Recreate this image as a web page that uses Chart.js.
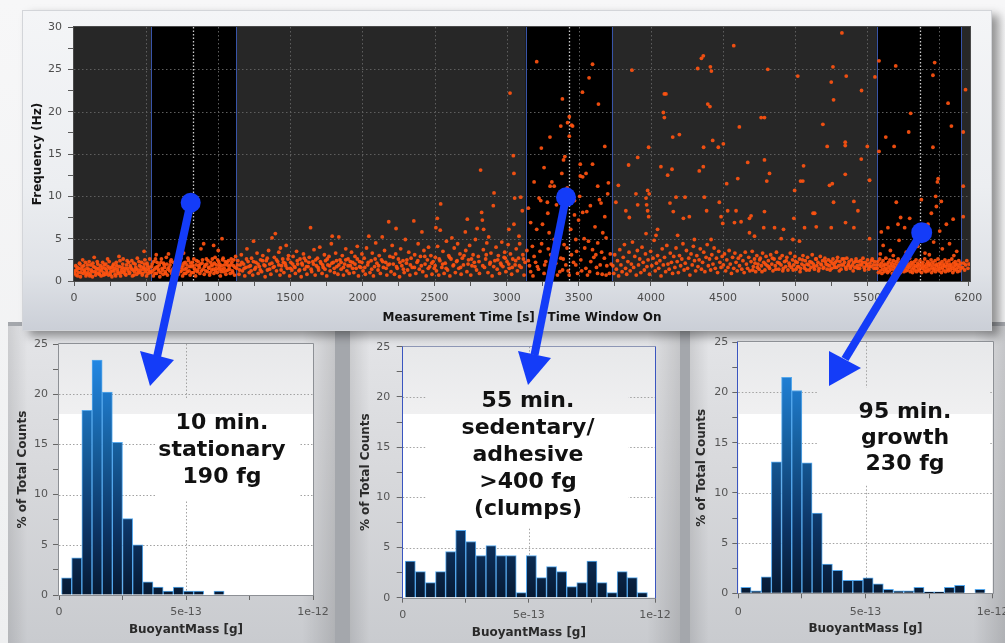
<!DOCTYPE html>
<html>
<head>
<meta charset="utf-8">
<script src="https://cdn.jsdelivr.net/npm/chart.js@4.4.1/dist/chart.umd.min.js"></script>
<style>
  html, body { margin: 0; padding: 0; }
  body {
    width: 1005px; height: 643px; position: relative; overflow: hidden;
    background: linear-gradient(to bottom, #f7f7f8 0%, #eeeff0 100%);
    font-family: "DejaVu Sans", Verdana, sans-serif;
  }
  .abs { position: absolute; }
  #lowerBg { left: 8px; top: 322px; width: 997px; height: 321px; background: #a4a7ac; }
  .panel {
    top: 326px; height: 317px;
    background:
      linear-gradient(to right, rgba(0,0,0,0.10) 0%, rgba(0,0,0,0) 6%, rgba(0,0,0,0) 90%, rgba(0,0,0,0.13) 100%),
      linear-gradient(to bottom, #e4e5e8 0%, #d8d9dc 45%, #c9cbcf 100%);
  }
  #p1 { left: 8px; width: 327px; }
  #p2 { left: 350px; width: 330px; }
  #p3 { left: 690px; width: 315px; }
  #topPanel {
    left: 22px; top: 10px; width: 970px; height: 321px;
    background: linear-gradient(to bottom, #f4f5f7 0%, #eceef1 55%, #dfe2e7 82%, #cbcfd7 100%);
    border: 1px solid #d3d5d9; box-sizing: border-box;
    box-shadow: 7px 5px 9px rgba(0,0,0,0.40);
  }
  canvas.abs { display: block; }
  .note {
    font-family: "DejaVu Sans", Verdana, sans-serif; font-weight: bold; font-size: 22px;
    color: #111; text-align: center; white-space: nowrap; width: 240px;
  }
  #arrows { left: 0; top: 0; width: 1005px; height: 643px; pointer-events: none; }
</style>
</head>
<body>
<div class="abs" id="lowerBg"></div>
<div class="abs panel" id="p1"></div>
<div class="abs panel" id="p2"></div>
<div class="abs panel" id="p3"></div>
<div class="abs" id="topPanel"></div>

<canvas id="runChart" class="abs" width="970" height="322" style="left:22px;top:10px;width:970px;height:322px"></canvas>
<canvas id="hist10" class="abs" width="327" height="316" style="left:8px;top:327px;width:327px;height:316px"></canvas>
<canvas id="hist55" class="abs" width="330" height="316" style="left:350px;top:327px;width:330px;height:316px"></canvas>
<canvas id="hist95" class="abs" width="315" height="316" style="left:690px;top:327px;width:315px;height:316px"></canvas>

<div class="abs note" style="left:102px;top:408px;line-height:27px">10 min.<br>stationary<br>190 fg</div>
<div class="abs note" style="left:408px;top:386px;line-height:27px">55 min.<br>sedentary/<br>adhesive<br>&gt;400 fg<br>(clumps)</div>
<div class="abs note" style="left:785px;top:398px;line-height:26px">95 min.<br>growth<br>230 fg</div>

<svg id="arrows" class="abs" viewBox="0 0 1005 643">
  <g fill="#143cf8" stroke="#143cf8">
    <line x1="190.7" y1="202.7" x2="157" y2="357" stroke-width="8"/>
    <circle cx="190.7" cy="202.7" r="10" stroke="none"/>
    <polygon points="150,386 140,351 174,360" stroke="none"/>

    <line x1="566" y1="197.3" x2="534.5" y2="355" stroke-width="8"/>
    <circle cx="566" cy="197.3" r="10" stroke="none"/>
    <polygon points="528,385 518,351 551,358" stroke="none"/>

    <line x1="921.7" y1="232.7" x2="845" y2="359" stroke-width="8"/>
    <circle cx="921.7" cy="232.7" r="10.5" stroke="none"/>
    <polygon points="829,386 829,351 861,368" stroke="none"/>
  </g>
</svg>

<script>
// ---------- Run trace: frequency of detected cells over measurement time ----------
const xTickLabels = [0, 500, 1000, 1500, 2000, 2500, 3000, 3500, 4000, 4500, 5000, 5500, 6200];
const yTickLabels = [0, 5, 10, 15, 20, 25, 30];

// measurement windows (s) and the time each histogram was sampled at
const timeWindows = [[533, 1123], [3132, 3729], [5567, 6153]];
const windowMarkers = [824, 3433, 5863];

// events: [time s, frequency Hz]
const earlyBand = [
  [8,1.2],[15,0.7],[22,1.6],[30,1.0],[38,2.1],[45,0.5],[52,1.4],[60,2.5],[64,0.9],[68,1.8],[75,1.1],[83,0.6],
  [90,1.5],[98,1.0],[105,2.3],[112,0.8],[120,1.3],[128,0.5],[135,1.7],[140,2.8],[142,1.1],[150,0.7],[158,1.4],
  [165,2.0],[172,0.9],[180,1.2],[188,0.6],[195,1.6],[203,1.0],[210,1.9],[218,0.8],[225,1.3],[233,2.6],[240,0.7],
  [248,1.5],[255,1.1],[263,0.5],[270,1.8],[278,1.2],[285,0.8],[293,2.2],[300,1.4],[308,0.9],[312,2.9],[315,1.7],
  [323,0.6],[330,1.3],[338,2.0],[345,1.0],[353,1.5],[360,0.7],[368,2.4],[375,1.2],[383,0.9],[390,1.8],[398,1.4],
  [405,0.6],[413,2.1],[420,1.1],[428,1.6],[435,0.8],[443,1.3],[450,2.3],[458,1.0],[465,1.7],[473,0.7],[480,1.4],
  [486,3.5],[488,2.0],[495,1.1],[503,0.6],[510,1.8],[518,1.3],[525,2.6],
  [4,0.9],[12,1.8],[19,1.3],[26,0.6],[34,1.5],[41,2.0],[49,1.0],[56,1.7],[71,1.3],[79,2.2],[87,0.8],[94,1.9],
  [101,1.4],[109,0.6],[116,1.9],[124,1.1],[131,2.1],[146,1.6],[154,1.0],[161,2.3],[169,1.5],[176,0.8],[184,1.8],
  [191,1.3],[199,2.2],[206,0.7],[214,1.5],[221,2.0],[229,1.0],[236,1.7],[244,2.3],[251,0.8],[259,1.6],[266,1.2],
  [274,2.0],[281,1.5],[289,0.6],[296,1.8],[304,1.1],[319,2.4],[326,1.0],[334,1.6],[341,2.6],[349,1.2],[356,0.8],
  [364,1.9],[371,1.5],[379,2.2],[386,1.0],[394,1.6],[401,2.4],[409,1.3],[416,0.7],[424,2.0],[431,1.4],[439,2.7],
  [446,1.0],[454,1.8],[461,1.3],[469,2.2],[476,0.9],[484,1.6],[491,2.5],[499,1.4],[506,2.1],[514,0.9],[521,1.6],
  [528,1.1]
];
const window1Events = [
  [535,1.0],[542,2.0],[550,0.6],[557,1.4],[565,2.6],[570,3.1],[572,0.9],[580,1.7],[588,1.2],[595,0.5],[603,2.2],
  [610,1.5],[618,0.8],[625,1.9],[633,1.1],[640,2.8],[648,0.7],[655,3.2],[658,1.6],[663,1.2],[670,2.3],[678,0.9],
  [685,1.4],[693,0.5],[700,2.0],[708,1.3],[715,1.8],[723,0.8],[730,2.5],[738,1.1],[745,1.6],[753,0.6],[760,3.3],
  [762,2.1],[768,1.4],[775,0.9],[783,1.9],[790,2.7],[798,1.2],[805,0.7],[813,1.7],[820,2.2],[828,1.0],[835,1.5],
  [843,0.6],[850,2.4],[858,1.3],[865,1.8],[873,0.9],[880,3.8],[888,2.1],[895,1.4],[899,4.4],[903,0.8],[910,1.9],
  [918,2.6],[925,1.1],[933,1.6],[940,0.7],[948,2.2],[955,1.3],[963,1.9],[968,4.2],[970,0.9],[978,2.8],[985,1.5],
  [993,1.0],[1000,3.6],[1003,2.3],[1008,1.7],[1015,0.6],[1023,1.4],[1026,5.0],[1030,2.5],[1038,1.1],[1045,1.9],
  [1053,0.8],[1060,2.2],[1068,1.3],[1075,1.7],[1083,0.9],[1090,2.6],[1098,1.2],[1105,1.8],[1113,0.7],[1120,2.9],
  [538,1.7],[546,1.2],[553,2.3],[561,0.9],[568,1.6],[576,2.2],[584,1.4],[591,1.9],[599,1.0],[606,2.6],[614,1.3],
  [621,2.1],[629,1.6],[636,0.9],[644,2.0],[651,1.4],[666,1.9],[674,2.5],[681,1.1],[689,2.2],[696,1.6],[704,0.8],
  [711,2.4],[719,1.5],[726,1.2],[734,2.0],[741,2.7],[749,1.3],[756,1.8],[764,0.9],[771,2.2],[779,1.5],[786,1.1],
  [794,2.4],[801,1.7],[809,2.1],[816,1.0],[824,1.8],[831,2.6],[839,1.3],[846,1.9],[854,1.1],[861,2.3],[869,1.6],
  [876,2.0],[884,1.2],[891,2.5],[906,1.7],[914,1.2],[921,2.0],[929,2.4],[936,1.5],[944,1.0],[951,1.8],[959,2.6],
  [966,1.4],[974,2.1],[981,1.2],[989,1.9],[996,2.5],[1004,1.4],[1011,2.0],[1019,1.1],[1026,1.8],[1034,2.7],
  [1041,1.5],[1049,2.3],[1056,1.2],[1064,1.9],[1071,2.4],[1079,1.4],[1086,1.9],[1094,2.2],[1101,1.0],[1109,2.5],
  [1116,1.6]
];
const driftBand = [
  [1128,1.5],[1136,2.4],[1144,0.8],[1152,1.9],[1160,3.1],[1168,1.2],[1176,2.0],[1184,0.6],[1192,1.6],[1199,3.8],
  [1207,2.3],[1215,1.0],[1223,1.8],[1231,2.7],[1239,0.7],[1245,4.7],[1253,1.4],[1261,2.2],[1269,3.3],[1277,0.9],
  [1285,1.7],[1293,2.5],[1301,1.1],[1309,3.0],[1317,1.9],[1325,0.5],[1333,2.4],[1341,1.3],[1349,3.6],[1357,2.0],
  [1365,0.8],[1373,5.1],[1381,1.6],[1389,2.8],[1396,5.6],[1404,1.2],[1412,2.3],[1420,3.4],[1428,0.7],[1431,3.9],
  [1439,1.8],[1447,2.6],[1455,1.0],[1463,2.1],[1471,4.2],[1479,1.5],[1487,3.0],[1495,0.6],[1503,2.2],[1511,1.3],
  [1519,2.9],[1527,1.7],[1535,0.9],[1543,3.5],[1551,2.0],[1559,1.2],[1567,2.6],[1575,0.5],[1583,1.9],[1591,3.2],
  [1599,1.4],[1607,2.4],[1615,0.8],[1623,1.7],[1631,2.8],[1640,6.3],[1648,1.1],[1656,2.3],[1664,3.7],[1672,0.7],
  [1680,1.8],[1688,2.7],[1696,1.3],[1704,4.0],[1712,2.1],[1720,0.9],[1728,1.6],[1736,3.1],[1744,2.4],[1752,0.6],
  [1760,1.9],[1768,2.9],[1776,1.2],[1784,4.4],[1790,5.3],[1798,2.2],[1806,1.0],[1814,3.3],[1822,1.7],[1830,0.8],
  [1836,5.2],[1844,2.5],[1852,1.4],[1860,3.0],[1868,0.7],[1876,2.0],[1884,3.8],[1892,1.2],[1900,2.6],[1908,0.9],
  [1916,1.8],[1924,3.4],[1932,2.2],[1940,1.0],[1948,2.9],[1956,1.5],[1964,4.1],[1972,0.6],[1980,2.3],[1988,1.6],
  [1996,3.2],
  [1132,1.9],[1148,1.3],[1164,2.2],[1180,1.5],[1196,2.6],[1212,1.7],[1228,1.2],[1244,2.3],[1260,1.6],[1276,2.0],
  [1292,1.3],[1308,2.4],[1324,1.8],[1340,2.7],[1356,1.4],[1372,2.1],[1388,1.7],[1404,2.5],[1420,1.9],[1436,1.3],
  [1452,2.2],[1468,1.8],[1484,2.6],[1500,1.5],[1516,2.0],[1532,1.6],[1548,2.4],[1564,1.3],[1580,2.1],[1596,2.7],
  [1612,1.7],[1628,2.2],[1644,1.4],[1660,2.0],[1676,2.5],[1692,1.6],[1708,2.3],[1724,1.9],[1740,1.4],[1756,2.6],
  [1772,1.8],[1788,2.1],[1804,1.5],[1820,2.4],[1836,1.9],[1852,2.2],[1868,1.6],[1884,2.5],[1900,1.8],[1916,2.3],
  [1932,1.5],[1948,2.0],[1964,2.6],[1980,1.7],[1996,2.2]
];
const midBand = [
  [2004,1.2],[2012,2.7],[2020,0.8],[2028,3.9],[2036,1.9],[2044,5.3],[2052,1.0],[2060,2.4],[2068,3.3],[2076,0.6],
  [2084,1.7],[2092,4.5],[2100,2.1],[2108,1.3],[2116,3.0],[2124,0.9],[2132,2.5],[2137,5.2],[2145,1.6],[2153,3.6],
  [2161,2.2],[2169,0.7],[2177,1.9],[2182,7.0],[2190,2.9],[2198,1.1],[2206,4.2],[2214,2.0],[2222,0.8],[2230,3.2],
  [2233,6.2],[2241,1.5],[2249,2.6],[2257,0.5],[2265,3.8],[2273,1.8],[2281,2.4],[2289,1.0],[2297,4.9],[2305,2.1],
  [2313,1.3],[2321,3.4],[2329,0.7],[2337,2.7],[2345,1.6],[2356,7.1],[2362,3.1],[2370,0.9],[2378,2.2],[2386,4.4],
  [2394,1.4],[2402,2.9],[2412,5.8],[2418,1.1],[2426,3.6],[2434,2.0],[2442,0.6],[2450,2.5],[2458,4.0],[2466,1.7],
  [2474,3.0],[2482,0.8],[2490,2.3],[2498,1.5],
  [2505,2.8],[2509,6.3],[2513,1.2],[2519,7.4],[2521,4.1],[2529,0.7],[2537,2.4],[2539,6.0],[2542,9.1],[2550,1.6],
  [2558,3.5],[2566,0.9],[2574,2.1],[2582,4.7],[2590,1.3],[2598,3.0],[2606,0.6],[2614,2.6],[2620,5.1],[2628,1.8],
  [2636,3.9],[2644,1.0],[2652,2.3],[2660,4.4],[2668,1.5],[2676,3.2],[2684,0.8],[2692,2.7],[2700,1.9],[2713,5.8],
  [2716,3.6],[2724,1.1],[2727,7.3],[2735,2.5],[2743,4.2],[2751,0.7],[2759,1.8],[2767,3.1],[2775,2.2],[2783,4.9],
  [2791,1.3],[2795,6.2],[2803,2.9],[2811,0.9],[2819,13.1],[2826,8.1],[2831,7.2],[2838,3.7],[2840,6.1],[2846,1.6],
  [2854,2.6],[2862,4.5],[2870,1.0],[2875,5.2],[2883,2.0],[2891,3.3],[2899,0.6],[2907,8.9],[2912,10.4],[2918,2.4],
  [2926,4.0],[2934,1.4],[2942,3.0],[2950,0.9],[2958,2.1],[2966,4.6],[2974,1.7],[2982,2.8],[2986,3.4],[2994,1.1],
  [3002,2.3],[3010,4.3],[3015,6.1],[3018,1.5],[3023,22.2],[3026,3.2],[3034,0.8],[3042,2.6],[3046,14.8],[3050,12.7],
  [3050,6.7],[3055,9.8],[3058,1.9],[3066,3.8],[3074,1.2],[3082,2.7],[3085,5.3],[3090,4.4],[3097,9.9],[3100,1.6],
  [3108,8.3],[3112,3.1],[3120,0.7],[3127,2.2],
  [2016,1.6],[2040,2.2],[2064,1.4],[2088,2.6],[2112,1.8],[2140,2.3],[2164,1.5],[2188,2.0],[2212,2.8],[2236,1.7],
  [2260,2.2],[2284,1.4],[2308,2.5],[2332,1.9],[2360,1.6],[2384,2.4],[2408,1.8],[2432,2.9],[2456,1.5],[2480,2.1],
  [2504,1.8],[2532,2.6],[2556,2.0],[2580,1.5],[2604,2.8],[2632,1.9],[2656,2.4],[2680,1.6],[2704,3.0],[2732,2.0],
  [2756,2.6],[2780,1.7],[2808,2.3],[2834,1.8],[2858,3.1],[2886,2.2],[2910,1.7],[2938,2.5],[2962,1.9],[2990,2.7],
  [3014,2.0],[3038,1.6],[3062,2.4],[3088,1.8],[3116,2.6]
];
const window2Events = [
  [3208,25.9],[3595,25.6],[3571,24.0],[3525,22.3],[3636,20.9],[3386,21.5],[3375,18.3],[3450,18.4],[3422,18.7],
  [3434,19.4],[3434,17.1],[3457,18.3],[3394,14.3],[3403,14.7],[3510,13.8],[3595,13.8],[3259,13.4],[3190,11.7],
  [3301,11.2],[3313,11.7],[3329,11.2],[3382,12.7],[3510,12.4],[3527,12.3],[3550,12.7],[3506,10.0],[3555,8.2],
  [3527,8.1],[3631,11.2],[3643,9.6],[3654,9.2],[3700,10.3],[3705,11.6],[3224,9.8],[3236,9.5],[3282,9.3],
  [3166,6.9],[3208,6.1],[3248,6.7],[3294,5.7],[3329,4.9],[3363,5.7],[3398,4.3],[3444,6.1],[3479,4.9],[3498,7.2],
  [3537,5.0],[3567,4.7],[3595,3.7],[3631,4.5],[3666,5.7],[3689,5.1],[3178,4.1],[3150,2.4],[3190,2.9],[3231,3.5],
  [3271,2.3],[3305,3.1],[3340,2.1],[3375,2.7],[3410,1.9],[3449,3.1],[3479,1.9],[3514,2.5],[3549,1.5],[3583,2.3],
  [3618,3.1],[3648,1.9],[3677,2.7],[3712,0.9],[3166,1.1],[3213,1.7],[3259,0.9],[3352,0.7],[3387,1.3],[3433,0.7],
  [3491,0.9],[3560,0.7],[3630,0.9],[3689,0.7],[3140,3.6],[3158,1.8],[3182,0.6],[3200,2.2],[3220,1.4],[3242,4.4],
  [3263,1.9],[3288,3.8],[3318,1.5],[3347,3.6],[3368,1.1],[3392,2.6],[3418,3.9],[3426,1.2],[3463,2.2],[3470,7.8],
  [3485,3.5],[3520,1.2],[3541,3.9],[3575,1.1],[3604,2.8],[3612,6.4],[3622,1.6],[3658,3.4],[3662,0.8],[3694,1.8],
  [3718,3.2],[3724,2.0],[3150,8.6],[3285,8.0],[3345,9.0],[3470,9.5],[3580,8.9],[3680,7.6],[3420,11.0],[3240,15.7],
  [3680,15.9],[3300,17.0]
];
const lateScatter = [
  [3736,1.8],[3742,0.9],[3749,3.1],[3757,9.3],[3760,1.4],[3768,2.4],[3774,11.3],[3776,0.6],[3784,3.7],[3792,1.9],
  [3800,1.1],[3808,2.8],[3816,4.3],[3824,1.5],[3826,8.3],[3832,0.8],[3840,2.3],[3845,13.7],[3848,3.4],[3850,7.5],
  [3856,1.2],[3864,2.0],[3868,24.9],[3872,4.6],[3880,1.6],[3888,2.9],[3896,10.3],[3898,0.7],[3906,3.6],[3908,9.0],
  [3908,14.6],[3914,1.9],[3922,2.6],[3930,1.0],[3938,4.0],[3946,2.2],[3954,1.3],[3962,3.2],[3966,9.8],[3966,5.6],
  [3970,9.0],[3972,1.7],[3977,10.7],[3977,8.3],[3980,2.5],[3984,7.6],[3984,15.8],[3988,10.3],[3990,0.8],[3998,3.5],
  [4006,1.8],[4014,2.7],[4022,4.8],[4030,1.2],[4035,5.4],[4038,2.1],[4046,6.1],[4046,3.0],[4054,1.5],[4062,2.4],
  [4069,13.5],[4070,0.6],[4078,3.8],[4086,19.9],[4086,1.9],[4093,22.1],[4093,19.3],[4094,2.8],[4102,1.1],[4104,22.1],
  [4110,4.2],[4116,12.5],[4118,2.0],[4126,1.4],[4132,9.2],[4134,3.3],[4142,2.2],[4146,13.2],[4150,0.9],[4151,17.0],
  [4155,8.2],[4158,2.9],[4166,1.6],[4174,9.9],[4174,3.9],[4182,2.3],[4185,5.4],[4190,1.0],[4197,17.3],[4198,3.0],
  [4206,1.8],[4214,2.6],[4222,4.4],[4225,7.4],[4230,1.3],[4236,9.9],[4238,2.1],[4246,3.6],[4254,1.5],[4262,2.7],
  [4266,7.6],[4270,0.7],[4278,3.2],[4286,1.9],[4294,4.1],[4301,4.9],[4302,2.4],[4310,1.2],[4318,3.0],[4324,25.1],
  [4326,1.7],[4334,2.5],[4335,13.0],[4342,3.8],[4350,26.3],[4350,1.4],[4358,2.2],[4363,26.6],[4363,13.5],[4365,15.8],
  [4366,3.4],[4370,9.9],[4374,1.1],[4382,2.8],[4386,8.3],[4390,4.3],[4394,20.9],[4398,1.8],[4406,2.6],[4409,20.6],
  [4412,25.3],[4414,1.3],[4417,4.9],[4419,24.8],[4422,3.1],[4428,16.6],[4430,2.0],[4438,3.9],[4446,1.5],[4454,2.7],
  [4462,1.0],[4467,15.8],[4470,3.5],[4474,9.3],[4478,2.2],[4486,7.6],[4486,1.6],[4494,2.9],[4498,6.8]
];
const lateBand = [
  [4502,16.2],[4502,1.9],[4510,3.2],[4518,1.2],[4525,11.5],[4526,2.5],[4532,8.3],[4534,1.6],[4542,3.6],[4550,2.0],
  [4558,0.9],[4566,2.8],[4574,27.8],[4574,1.5],[4579,6.9],[4582,3.3],[4590,8.3],[4590,2.2],[4598,1.2],[4602,12.1],
  [4606,2.7],[4613,18.2],[4614,1.8],[4622,3.0],[4625,7.0],[4630,1.4],[4638,2.4],[4646,1.0],[4654,3.4],[4662,2.0],
  [4670,1.5],[4671,14.0],[4678,2.8],[4683,7.4],[4683,5.7],[4686,1.2],[4694,7.7],[4694,2.3],[4702,3.5],[4710,1.7],
  [4718,5.3],[4718,2.6],[4726,1.1],[4734,3.0],[4742,2.0],[4750,1.4],[4758,2.7],[4764,19.3],[4766,1.8],[4774,3.3],
  [4782,6.3],[4782,2.2],[4787,19.3],[4787,14.3],[4787,8.2],[4790,1.3],[4798,2.9],[4803,11.8],[4806,1.8],[4810,25.0],
  [4814,2.4],[4822,12.7],[4822,1.5],[4830,3.1],[4838,2.0],[4846,1.2],[4854,2.6],[4857,6.3],[4862,1.8],[4870,3.4],
  [4878,2.2],[4886,1.4],[4894,2.7],[4902,1.9],[4903,5.0],[4910,3.0],[4918,1.5],[4919,6.1],[4926,2.3],[4934,1.7],
  [4942,2.8],[4950,1.3],[4958,2.1],[4966,3.3],[4974,1.6],[4982,2.5],[4984,4.9],[4990,1.9],[4991,7.4],[4996,10.7],
  [4998,2.9],[5006,1.4],[5014,2.2],[5018,24.2],[5022,1.7],[5030,4.7],[5030,2.6],[5037,11.8],[5038,1.5],[5046,2.0],
  [5053,11.8],[5054,3.0],[5058,13.6],[5062,1.8],[5065,6.3],[5070,2.4],[5078,1.3],[5086,2.8],[5094,1.9],[5102,2.3],
  [5110,1.6],[5118,3.1],[5124,8.0],[5126,2.0],[5134,1.4],[5135,8.0],[5142,2.6],[5146,6.4],[5150,1.8],[5158,2.2],
  [5166,1.5],[5174,2.9],[5182,1.9],[5190,2.4],[5192,18.5],[5198,1.6],[5206,2.7],[5214,2.0],[5222,15.9],[5222,1.4],
  [5230,2.5],[5238,11.3],[5238,1.8],[5246,2.3],[5250,23.5],[5250,6.3],[5254,1.5],[5257,11.5],[5262,25.3],[5262,2.6],
  [5266,21.4],[5266,9.3],[5270,1.9],[5278,2.2],[5286,1.6],[5294,2.8],[5302,1.8],[5310,2.3],[5318,1.4],[5324,29.3],
  [5326,2.6],[5334,1.9],[5342,2.2],[5347,16.4],[5347,16.0],[5347,12.6],[5349,6.9],[5350,1.6],[5354,24.2],[5358,2.7],
  [5366,1.8],[5374,2.3],[5382,1.5],[5390,2.5],[5398,1.9],[5406,2.2],[5407,9.4],[5407,6.3],[5414,1.6],[5422,2.6],
  [5430,1.8],[5435,8.3],[5438,2.3],[5446,1.5],[5454,2.4],[5458,14.4],[5460,22.5],[5462,1.9],[5470,2.7],[5478,1.6],
  [5486,2.2],[5494,1.8],[5500,15.9],[5502,2.5],[5510,1.4],[5516,11.9],[5516,5.0],[5518,2.1],[5526,1.7],[5534,2.6],
  [5542,1.9],[5550,2.3],[5553,24.1],[5558,1.5],
  [4706,1.3],[4722,2.1],[4738,1.6],[4754,2.5],[4770,1.1],[4794,2.0],[4818,1.7],[4842,2.7],[4866,1.4],[4890,2.1],
  [4914,1.2],[4938,2.4],[4962,1.8],[4986,1.3],[5002,2.3],[5018,1.7],[5034,1.1],[5050,2.5],[5066,1.5],[5082,2.0],
  [5098,1.3],[5114,2.2],[5130,1.7],[5146,2.6],[5162,1.2],[5178,2.0],[5194,1.5],[5210,2.3],[5226,1.9],[5242,1.3],
  [5258,2.1],[5274,1.6],[5290,2.4],[5306,1.2],[5322,1.9],[5338,2.6],[5354,1.4],[5370,2.0],[5386,1.7],[5402,1.2],
  [5418,2.3],[5434,1.5],[5450,1.9],[5466,2.2],[5482,1.3],[5498,2.0],[5514,1.7],[5530,2.4],[5546,1.5],[5562,1.9]
];
const window3Events = [
  [5569,1.5],[5573,2.3],[5577,1.0],[5582,1.9],[5586,2.6],[5589,1.2],[5594,1.7],[5598,2.1],[5601,0.9],[5606,1.4],
  [5609,2.4],[5614,1.8],[5617,1.1],[5622,2.0],[5626,1.5],[5629,2.7],[5634,1.3],[5638,1.9],[5641,1.0],[5646,2.2],
  [5649,1.6],[5654,1.2],[5657,2.5],[5662,1.8],[5666,1.4],[5669,2.1],[5674,0.9],[5678,1.7],[5681,2.4],[5686,1.3],
  [5689,2.0],[5694,1.6],[5698,1.1],[5702,2.3],[5706,1.5],[5709,1.9],[5714,2.6],[5718,1.2],[5721,1.7],[5726,2.2],
  [5730,1.0],[5733,1.6],[5738,2.0],[5742,1.4],[5745,2.5],[5750,1.8],[5754,1.1],[5757,2.1],[5762,1.5],[5766,1.9],
  [5769,1.2],[5774,2.4],[5778,1.7],[5781,1.3],[5786,2.0],[5790,1.6],[5793,2.7],[5798,1.1],[5802,1.8],[5805,2.2],
  [5810,1.4],[5814,1.0],[5817,2.0],[5822,1.6],[5826,2.3],[5829,1.3],[5834,1.8],[5838,2.5],[5841,1.1],[5846,1.7],
  [5850,2.1],[5853,1.4],[5858,1.9],[5862,1.2],[5865,2.4],[5870,1.6],[5874,2.0],[5877,1.0],[5882,1.5],[5886,2.2],
  [5889,1.8],[5894,1.3],[5898,2.6],[5901,1.7],[5906,1.1],[5910,2.0],[5913,1.5],[5918,2.3],[5922,1.2],[5925,1.8],
  [5930,2.1],[5934,1.4],[5937,1.9],[5942,2.5],[5946,1.0],[5949,1.6],[5954,2.2],[5958,1.3],[5961,1.9],[5966,1.5],
  [5970,2.4],[5973,1.1],[5978,1.8],[5982,2.0],[5985,1.4],[5990,2.6],[5994,1.7],[5997,1.2],[6002,2.1],[6006,1.5],
  [6009,1.9],[6014,1.0],[6018,2.3],[6021,1.6],[6026,1.3],[6030,2.0],[6033,1.8],[6038,2.5],[6042,1.1],[6045,1.7],
  [6050,2.2],[6054,1.4],[6057,1.9],[6062,1.2],[6066,2.4],[6069,1.6],[6074,2.0],[6078,1.3],[6081,1.8],[6086,2.6],
  [6090,1.5],[6093,1.0],[6098,2.1],[6102,1.7],[6105,1.3],[6110,2.3],[6114,1.9],[6117,1.4],[6122,2.0],[6126,1.1],
  [6129,1.6],[6134,2.4],[6138,1.8],[6141,1.2],[6146,2.1],[6150,1.5],
  [5581,26.0],[5697,25.4],[5967,25.8],[5955,24.3],[6060,21.0],[5801,19.8],[5787,17.6],[5628,17.0],[5686,15.9],
  [5955,15.8],[6083,18.3],[5581,15.3],[5991,12.1],[5986,11.7],[5974,10.0],[6013,9.4],[5979,8.8],[5944,8.0],
  [5701,9.3],[5875,9.6],[5731,7.5],[5713,6.7],[5759,6.3],[5840,6.3],[5921,6.7],[6048,6.7],[6095,7.3],[5643,6.3],
  [5597,5.8],[5794,7.4],[6002,5.9],[5610,4.2],[5660,3.6],[5720,4.8],[5770,3.4],[5850,4.1],[5900,3.3],[5960,4.6],
  [6020,3.8],[6070,4.4],[6120,3.5],[5590,3.2],[5680,3.0],[5820,3.9],[5930,3.1],[6100,3.0]
];
const tailEvents = [
  [6165,17.6],[6181,22.6],[6165,11.2],[6165,7.6],[6160,1.6],[6168,2.1],[6175,1.3],[6182,1.9],[6190,2.4],[6198,1.5],[6205,2.0]
];

// ---------- Buoyant-mass histograms (% of total counts per bin) ----------
const massTickValues = [0, 5e-13, 1e-12];
const massTickLabels = ['0', '5e-13', '1e-12'];
const firstBinCentre = 3e-14;
const binWidth = 4e-14;
const hist10min = [1.7, 3.7, 18.4, 23.4, 20.2, 15.2, 7.6, 5.0, 1.3, 0.8, 0.4, 0.8, 0.4, 0.4, 0, 0.4, 0, 0, 0, 0, 0, 0, 0, 0];
const hist55min = [3.65, 2.6, 1.5, 2.6, 4.6, 6.7, 5.6, 4.2, 5.2, 4.2, 4.2, 0.5, 4.2, 2.0, 3.1, 2.6, 1.1, 1.5, 3.65, 1.5, 0.5, 2.6, 2.0, 0.5];
const hist95min = [0.6, 0.25, 1.65, 13.1, 21.5, 20.2, 13.0, 8.0, 2.9, 2.3, 1.3, 1.3, 1.55, 0.95, 0.4, 0.25, 0.25, 0.6, 0.15, 0.15, 0.6, 0.8, 0, 0.4];
const percentTickLabels = [0, 5, 10, 15, 20, 25];

Chart.defaults.font.family = '"DejaVu Sans", Verdana, sans-serif';
Chart.defaults.font.size = 11;

function pinScale(size) {
  return (s) => {
    if (s.isHorizontal()) s.height = size; else s.width = size;
    s.paddingLeft = 0; s.paddingRight = 0; s.paddingTop = 0; s.paddingBottom = 0;
  };
}
function withMinors(majors) {
  const out = [];
  majors.forEach((v, i) => {
    out.push(v);
    const next = majors[i + 1];
    if (next !== undefined && next - v === majors[1] - majors[0]) out.push((v + next) / 2);
  });
  return out;
}

// ---------- run trace ----------
const runPlot = {
  id: 'runPlot',
  beforeDatasetsDraw(chart) {
    const { ctx, chartArea: a, scales: { x, y } } = chart;
    ctx.save();
    ctx.beginPath(); ctx.rect(a.left, a.top, a.width, a.height); ctx.clip();
    ctx.fillStyle = '#272727';
    ctx.fillRect(a.left, a.top, a.width, a.height);
    ctx.fillStyle = '#000';
    timeWindows.forEach(([s, e]) => {
      const x0 = x.getPixelForValue(s), x1 = x.getPixelForValue(e);
      ctx.fillRect(x0, a.top, x1 - x0, a.height);
    });
    ctx.strokeStyle = '#5e5e5e'; ctx.lineWidth = 1; ctx.setLineDash([1.5, 2.5]);
    for (let v = 500; v < 6200; v += 500) {
      const px = Math.round(x.getPixelForValue(v)) + 0.5;
      ctx.beginPath(); ctx.moveTo(px, a.top); ctx.lineTo(px, a.bottom); ctx.stroke();
    }
    yTickLabels.slice(1, -1).forEach(v => {
      const py = Math.round(y.getPixelForValue(v)) + 0.5;
      ctx.beginPath(); ctx.moveTo(a.left, py); ctx.lineTo(a.right, py); ctx.stroke();
    });
    ctx.setLineDash([]); ctx.strokeStyle = '#3854a8';
    timeWindows.forEach(([s, e]) => {
      [s, e].forEach(t => {
        const px = Math.round(x.getPixelForValue(t)) + 0.5;
        ctx.beginPath(); ctx.moveTo(px, a.top); ctx.lineTo(px, a.bottom); ctx.stroke();
      });
    });
    ctx.strokeStyle = 'rgba(225,225,225,0.9)'; ctx.lineWidth = 1.3; ctx.setLineDash([1.5, 2]);
    windowMarkers.forEach(t => {
      const px = Math.round(x.getPixelForValue(t)) + 0.5;
      ctx.beginPath(); ctx.moveTo(px, a.top); ctx.lineTo(px, a.bottom); ctx.stroke();
    });
    ctx.restore();
  },
  afterDatasetsDraw(chart) {
    const { ctx, chartArea: a } = chart;
    ctx.save();
    ctx.strokeStyle = '#4a4a4a'; ctx.lineWidth = 1;
    ctx.strokeRect(Math.round(a.left) - 0.5, Math.round(a.top) - 0.5, Math.round(a.width) + 1, Math.round(a.height) + 1);
    ctx.restore();
  }
};

const runEvents = [].concat(earlyBand, window1Events, driftBand, midBand, window2Events, lateScatter, lateBand, window3Events, tailEvents)
  .map(([t, f]) => ({ x: t, y: f }));

new Chart(document.getElementById('runChart'), {
  type: 'scatter',
  data: {
    datasets: [{
      data: runEvents,
      pointRadius: 1.9,
      pointBorderWidth: 0,
      pointBackgroundColor: 'rgba(255,82,16,0.92)',
      clip: 0
    }]
  },
  options: {
    responsive: false, animation: false, events: [],
    layout: { padding: { left: 0, right: 22, top: 17, bottom: 0 } },
    plugins: { legend: { display: false }, tooltip: { enabled: false } },
    scales: {
      x: {
        type: 'linear', min: 0, max: 6212,
        afterBuildTicks: (s) => { s.ticks = withMinors(xTickLabels).map(v => ({ value: v })); },
        afterFit: pinScale(51),
        ticks: {
          autoSkip: false, maxRotation: 0, padding: 6, color: '#4d4d4d',
          callback: (v) => xTickLabels.includes(v) ? String(v) : ''
        },
        grid: { display: true, drawOnChartArea: false, drawTicks: true, tickLength: 5, color: '#5a5a5a' },
        border: { display: false },
        title: {
          display: true, text: 'Measurement Time [s] / Time Window On', color: '#151515',
          font: { size: 12, weight: 'bold' }, padding: { top: 0, bottom: 6.5 }
        }
      },
      y: {
        min: 0, max: 30,
        afterBuildTicks: (s) => { s.ticks = withMinors(yTickLabels).map(v => ({ value: v })); },
        afterFit: pinScale(52),
        ticks: {
          autoSkip: false, padding: 6, color: '#4d4d4d',
          callback: (v) => yTickLabels.includes(v) ? String(v) : ''
        },
        grid: { display: true, drawOnChartArea: false, drawTicks: true, tickLength: 6, color: '#5a5a5a' },
        border: { display: false },
        title: {
          display: true, text: 'Frequency (Hz)', color: '#151515',
          font: { size: 12, weight: 'bold' }, padding: { top: 8.5, bottom: 0 }
        }
      }
    }
  },
  plugins: [runPlot]
});

// ---------- histograms ----------
const histFrame = {
  id: 'histFrame',
  beforeDatasetsDraw(chart, args, opts) {
    const { ctx, chartArea: a, scales: { x, y } } = chart;
    const paint = () => {
      ctx.fillStyle = '#ffffff';
      ctx.fillRect(a.left, a.top, a.width, a.height);
      const g = ctx.createLinearGradient(0, a.top, 0, opts.bandBottom);
      g.addColorStop(0, '#e7e8ea'); g.addColorStop(1, '#f0f0f1');
      ctx.fillStyle = g;
      ctx.fillRect(a.left, a.top, a.width, opts.bandBottom - a.top);
    };
    ctx.save();
    paint();
    ctx.strokeStyle = '#a2a2a2'; ctx.lineWidth = 1; ctx.setLineDash([1.5, 2]);
    percentTickLabels.slice(1, -1).forEach(v => {
      const py = Math.round(y.getPixelForValue(v)) + 0.5;
      ctx.beginPath(); ctx.moveTo(a.left, py); ctx.lineTo(a.right, py); ctx.stroke();
    });
    const px = Math.round(x.getPixelForValue(massTickValues[1])) + 0.5;
    ctx.beginPath(); ctx.moveTo(px, a.top); ctx.lineTo(px, a.bottom); ctx.stroke();
    const [bx0, by0, bx1, by1] = opts.box;
    ctx.beginPath(); ctx.rect(bx0, by0, bx1 - bx0, by1 - by0); ctx.clip();
    ctx.setLineDash([]);
    paint();
    ctx.restore();
  },
  afterDatasetsDraw(chart, args, opts) {
    const { ctx, chartArea: a } = chart;
    const l = Math.round(a.left) - 0.5, r = Math.round(a.right) + 0.5;
    const t = Math.round(a.top) - 0.5, b = Math.round(a.bottom) + 0.5;
    const side = (c, x0, y0, x1, y1) => {
      ctx.strokeStyle = c; ctx.beginPath(); ctx.moveTo(x0, y0); ctx.lineTo(x1, y1); ctx.stroke();
    };
    ctx.save(); ctx.lineWidth = 1;
    side(opts.edges.top, l, t, r, t);
    side(opts.edges.right, r, t, r, b);
    side(opts.edges.bottom, l, b, r, b);
    side(opts.edges.left, l, t, l, b);
    ctx.restore();
  }
};

function barFill(context) {
  const a = context.chart.chartArea;
  if (!a) return '#0d3766';
  const g = context.chart.ctx.createLinearGradient(0, a.bottom, 0, a.top);
  g.addColorStop(0, '#071a33');
  g.addColorStop(0.25, '#0c3363');
  g.addColorStop(0.6, '#17609f');
  g.addColorStop(0.95, '#2389e6');
  g.addColorStop(1, '#2890ee');
  return g;
}

function histogram(id, values, geo) {
  const data = values.map((v, i) => ({ x: firstBinCentre + i * binWidth, y: v }));
  return new Chart(document.getElementById(id), {
    type: 'bar',
    data: {
      datasets: [{
        data,
        backgroundColor: barFill,
        borderColor: 'rgba(78,164,236,0.95)',
        borderWidth: 1,
        barPercentage: 1,
        categoryPercentage: 1
      }]
    },
    options: {
      responsive: false, animation: false, events: [],
      layout: { padding: { left: 0, right: geo.right, top: geo.top, bottom: 0 } },
      plugins: {
        legend: { display: false }, tooltip: { enabled: false },
        histFrame: { bandBottom: geo.bandBottom, box: geo.box, edges: geo.edges }
      },
      scales: {
        x: {
          type: 'linear', min: 0, max: 1e-12, offset: false,
          afterBuildTicks: (s) => { s.ticks = withMinors(massTickValues).map(v => ({ value: v })); },
          afterFit: pinScale(geo.xAxis),
          ticks: {
            autoSkip: false, maxRotation: 0, padding: geo.xPad, color: '#555',
            callback: (v) => { const k = massTickValues.indexOf(v); return k >= 0 ? massTickLabels[k] : ''; }
          },
          grid: { display: true, offset: false, drawOnChartArea: false, tickLength: 5, color: '#666' },
          border: { display: false },
          title: {
            display: true, text: 'BuoyantMass [g]', color: '#2a2a2a',
            font: { size: 12, weight: 'bold' }, padding: { top: 0, bottom: geo.xTitlePad }
          }
        },
        y: {
          min: 0, max: 25,
          afterBuildTicks: (s) => { s.ticks = withMinors(percentTickLabels).map(v => ({ value: v })); },
          afterFit: pinScale(geo.left),
          ticks: {
            autoSkip: false, padding: geo.yPad, color: '#555',
            callback: (v) => percentTickLabels.includes(v) ? String(v) : ''
          },
          grid: { display: true, drawOnChartArea: false, tickLength: 6, color: '#666' },
          border: { display: false },
          title: {
            display: true, text: '% of Total Counts', color: '#2a2a2a',
            font: { size: 12, weight: 'bold' }, padding: { top: geo.yTitlePad, bottom: 0 }
          }
        }
      }
    },
    plugins: [histFrame]
  });
}

const grey = '#8d9095', blue = '#3a55c0';
histogram('hist10', hist10min, {
  left: 51, right: 22, top: 17, xAxis: 48, xPad: 6, yPad: 5, xTitlePad: 5.8, yTitlePad: 8,
  bandBottom: 87, box: [149, 71, 292, 173],
  edges: { top: grey, right: grey, bottom: grey, left: grey }
});
histogram('hist55', hist55min, {
  left: 52.7, right: 25, top: 19.7, xAxis: 45.3, xPad: 6, yPad: 6.5, xTitlePad: 2.5, yTitlePad: 8.4,
  bandBottom: 87, box: [76, 58, 278, 200],
  edges: { top: '#8d96b5', right: blue, bottom: grey, left: blue }
});
histogram('hist95', hist95min, {
  left: 48.3, right: 12.3, top: 15.3, xAxis: 49.7, xPad: 7.5, yPad: 4, xTitlePad: 6.8, yTitlePad: 5,
  bandBottom: 87, box: [127, 61, 300, 158],
  edges: { top: grey, right: grey, bottom: grey, left: blue }
});
</script>
</body>
</html>
